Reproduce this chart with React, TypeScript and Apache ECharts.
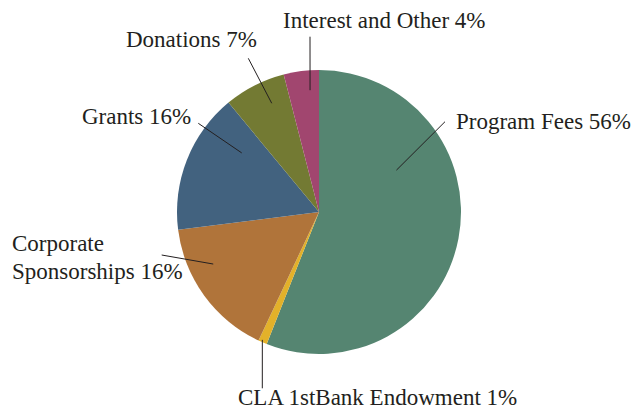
import { useEffect, useRef } from 'react';
import * as echarts from 'echarts';

// ---- data ----
const categories = [
  'Program Fees',
  'CLA 1stBank Endowment',
  'Corporate Sponsorships',
  'Grants',
  'Donations',
  'Interest and Other',
];
const shares = [56, 1, 16, 16, 7, 4];

// ---- styles / layout ----
const sliceColors = ['#558571', '#E3B12A', '#B0743A', '#42627F', '#737A33', '#A1466F'];
const PIE_CENTER: [number, number] = [319, 212];
const PIE_RADIUS = 142;
// label text: left x, vertical middle y
const labelPos: [number, number][] = [
  [456, 121.5],
  [238, 397.5],
  [12, 257.5],
  [82, 116.5],
  [126, 39],
  [283, 20],
];
// leader line end next to the label
const lineOuter: [number, number][] = [
  [445, 121.7],
  [262.3, 388.3],
  [161.7, 255],
  [198.3, 123.3],
  [248.3, 58.3],
  [310, 36.7],
];
// leader line end inside the slice: [angle clockwise from top (deg), fraction of radius]
const lineInner: [number, number][] = [
  [61.6, 0.62],
  [203.9, 0.985],
  [243.8, 0.83],
  [307.4, 0.685],
  [336.5, 0.835],
  [355.8, 0.86],
];

const TEXT_COLOR = '#231f20';
const FONT = '"Liberation Serif", "DejaVu Serif", serif';

function innerPoint(i: number): [number, number] {
  const [deg, f] = lineInner[i];
  const a = (deg * Math.PI) / 180;
  return [PIE_CENTER[0] + Math.sin(a) * f * PIE_RADIUS, PIE_CENTER[1] - Math.cos(a) * f * PIE_RADIUS];
}

export default function App() {
  const ref = useRef<HTMLDivElement>(null);

  useEffect(() => {
    document.body.style.margin = '0';
    if (!ref.current) return;
    const chart = echarts.init(ref.current, null, { renderer: 'svg' });
    chart.setOption({
      animation: false,
      backgroundColor: '#ffffff',
      graphic: categories.map((_, i) => {
        const [x1, y1] = innerPoint(i);
        const [x2, y2] = lineOuter[i];
        return {
          type: 'line',
          z: 100,
          silent: true,
          shape: { x1, y1, x2, y2 },
          style: { stroke: TEXT_COLOR, lineWidth: 1 },
        };
      }),
      series: [
        {
          type: 'pie',
          center: PIE_CENTER,
          radius: PIE_RADIUS,
          startAngle: 90,
          clockwise: true,
          avoidLabelOverlap: false,
          silent: true,
          data: categories.map((name, i) => ({
            name,
            value: shares[i],
            itemStyle: { color: sliceColors[i] },
          })),
          itemStyle: { borderWidth: 0 },
          label: {
            show: true,
            position: 'outside',
            fontFamily: FONT,
            fontSize: 23,
            lineHeight: 28,
            color: TEXT_COLOR,
            formatter: (p: any) =>
              p.name.replace('Corporate ', 'Corporate\n') + ' ' + p.value + '%',
          },
          labelLine: { show: false },
          labelLayout: (params: any) => {
            const i = params.dataIndex;
            return {
              x: labelPos[i][0],
              y: labelPos[i][1],
              align: 'left',
              verticalAlign: 'middle',
            };
          },
        },
      ],
    });
    return () => chart.dispose();
  }, []);

  return <div ref={ref} style={{ width: 634, height: 410 }} />;
}
